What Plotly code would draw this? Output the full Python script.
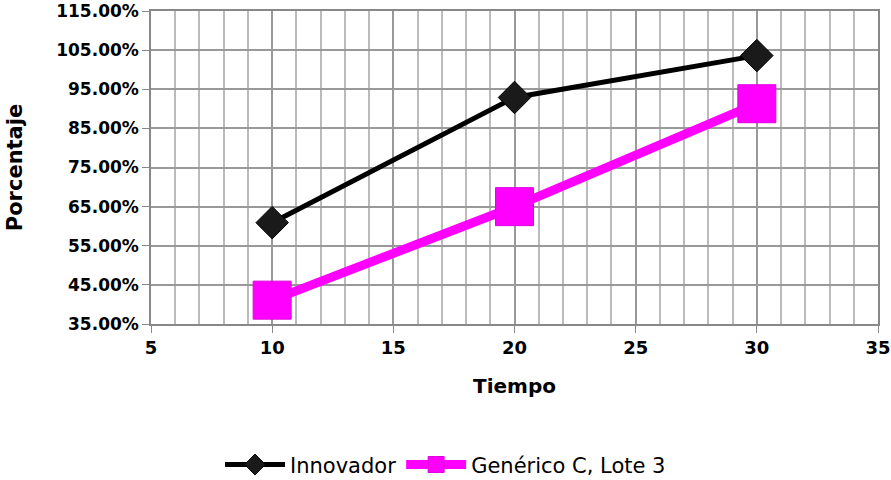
import plotly.graph_objects as go

tiempo = [10, 20, 30]
innovador = [0.609, 0.929, 1.036]
generico = [0.411, 0.650, 0.913]
x_ticks = [5, 10, 15, 20, 25, 30, 35]
y_ticks = [0.35, 0.45, 0.55, 0.65, 0.75, 0.85, 0.95, 1.05, 1.15]

fig = go.Figure()
fig.add_trace(go.Scatter(
    x=tiempo, y=innovador, name="Innovador", mode="lines+markers",
    line=dict(color="black", width=5),
    marker=dict(symbol="diamond", size=25, color="#1a1a1a", line=dict(color="#000000", width=1)),
))
fig.add_trace(go.Scatter(
    x=tiempo, y=generico, name="Genérico C, Lote 3", mode="lines+markers",
    line=dict(color="#FF00FF", width=9),
    marker=dict(symbol="square", size=38, color="#FF00FF", line=dict(color="#E000E0", width=1)),
))

fig.update_layout(
    width=891, height=480,
    margin=dict(l=151, r=13, t=11, b=156, autoexpand=False),
    paper_bgcolor="white", plot_bgcolor="white",
    font=dict(family="DejaVu Sans", color="black"),
    showlegend=True,
    legend=dict(orientation="h", x=0.5, xanchor="center", xref="container",
                y=-0.45, yanchor="middle", yref="paper",
                font=dict(size=21, family="DejaVu Sans"), itemwidth=60),
)
fig.update_xaxes(
    range=[5, 35], tickvals=x_ticks, ticks="outside", ticklen=7, tickcolor="#888",
    tickfont=dict(size=18, weight="bold"), automargin=False, ticklabeloverflow="allow",
    showgrid=True, gridcolor="#999", gridwidth=1.5,
    minor=dict(dtick=1, showgrid=True, gridcolor="#bbb", gridwidth=1.5),
    showline=True, linecolor="#888", linewidth=1.5, mirror=True,
    zeroline=False,
    title=dict(text="Tiempo", font=dict(size=20, weight="bold"), standoff=22),
)
fig.update_yaxes(
    range=[0.35, 1.15], tickvals=y_ticks, tickformat=".2%", ticks="outside", ticklen=7, tickcolor="#888",
    tickfont=dict(size=17, weight="bold"), automargin=False, ticklabeloverflow="allow",
    showgrid=True, gridcolor="#999", gridwidth=1.5,
    showline=True, linecolor="#888", linewidth=1.5, mirror=True,
    zeroline=False,
    title=dict(text="Porcentaje", font=dict(size=21, weight="bold"), standoff=28),
)

fig.write_html("out.html")
